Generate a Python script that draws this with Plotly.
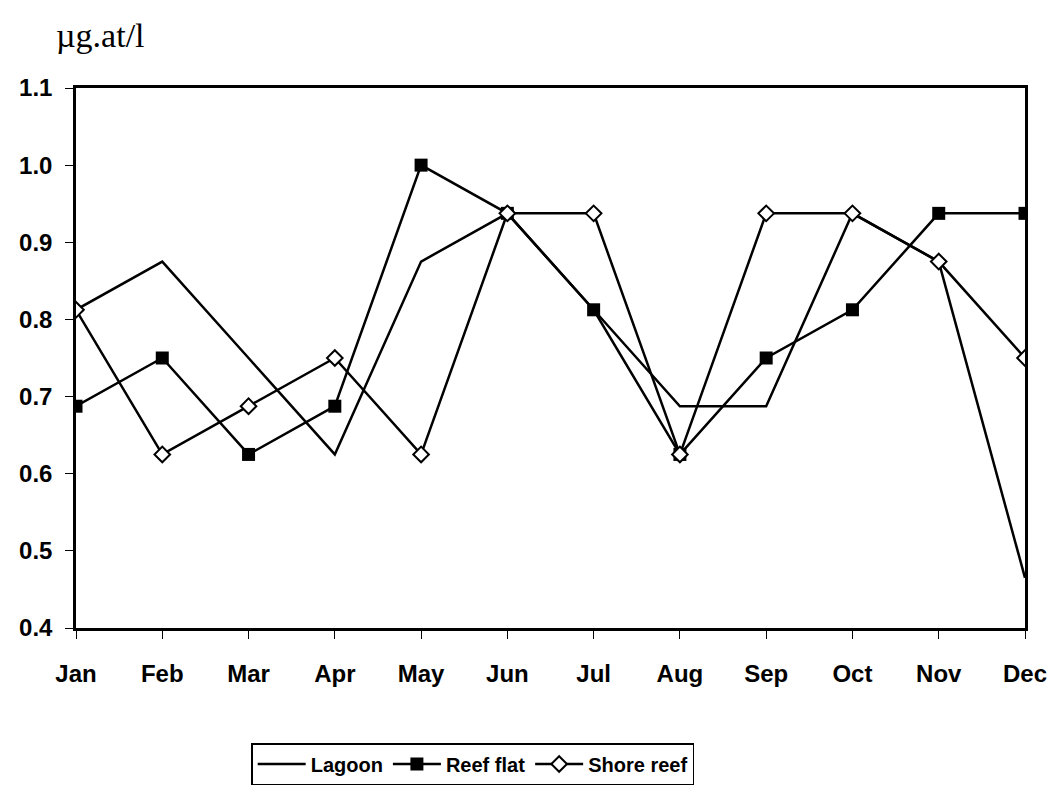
import plotly.graph_objects as go

months = ["Jan", "Feb", "Mar", "Apr", "May", "Jun", "Jul", "Aug", "Sep", "Oct", "Nov", "Dec"]
lagoon = [0.8125, 0.875, 0.75, 0.625, 0.875, 0.9375, 0.8125, 0.6875, 0.6875, 0.9375, 0.875, 0.465]
reef_flat = [0.6875, 0.75, 0.625, 0.6875, 1.0, 0.9375, 0.8125, 0.625, 0.75, 0.8125, 0.9375, 0.9375]
shore_reef = [0.8125, 0.625, 0.6875, 0.75, 0.625, 0.9375, 0.9375, 0.625, 0.9375, 0.9375, 0.875, 0.75]
y_ticks = [0.4, 0.5, 0.6, 0.7, 0.8, 0.9, 1.0, 1.1]

fig = go.Figure()
fig.add_trace(go.Scatter(x=months, y=lagoon, name="Lagoon", mode="lines",
                         line=dict(color="black", width=2.5)))
fig.add_trace(go.Scatter(x=months, y=reef_flat, name="Reef flat", mode="lines+markers",
                         line=dict(color="black", width=2.5),
                         marker=dict(symbol="square", size=13, color="black")))
fig.add_trace(go.Scatter(x=months, y=shore_reef, name="Shore reef", mode="lines+markers",
                         line=dict(color="black", width=2.5),
                         marker=dict(symbol="diamond", size=12, color="white",
                                     line=dict(color="black", width=2))))

fig.update_layout(
    width=1048, height=781,
    paper_bgcolor="white", plot_bgcolor="white",
    margin=dict(l=68, r=31, t=80, b=161, autoexpand=False),
    font=dict(family="Liberation Sans", color="black"),
    showlegend=True,
    legend=dict(orientation="h", x=0.418, xanchor="center", y=-0.213, yanchor="top",
                bordercolor="black", borderwidth=1.5,
                font=dict(family="Liberation Sans", size=20, color="black", weight="bold"),
                itemwidth=48, tracegroupgap=0),
    annotations=[dict(text="µg.at/l", xref="paper", yref="paper", x=-0.023, y=1.06,
                      xanchor="left", yanchor="bottom", showarrow=False,
                      font=dict(family="Liberation Serif", size=34, color="black"))],
)
fig.update_xaxes(
    type="category", range=[0, 11], automargin=False,
    showline=True, linecolor="black", linewidth=2.5, mirror=True,
    ticks="outside", ticklen=8, tickcolor="black", tickwidth=1,
    ticklabelstandoff=14,
    showgrid=False, zeroline=False,
    tickfont=dict(family="Liberation Sans", size=24, color="black", weight="bold"),
)
fig.update_yaxes(
    range=[0.4, 1.1], tickvals=y_ticks, ticktext=[f"{v:.1f}" for v in y_ticks],
    automargin=False,
    showline=True, linecolor="black", linewidth=2.5, mirror=True,
    ticks="outside", ticklen=8, tickcolor="black", tickwidth=1,
    ticklabelstandoff=8,
    showgrid=False, zeroline=False,
    tickfont=dict(family="Liberation Sans", size=24, color="black", weight="bold"),
)

fig.write_html("out.html")
